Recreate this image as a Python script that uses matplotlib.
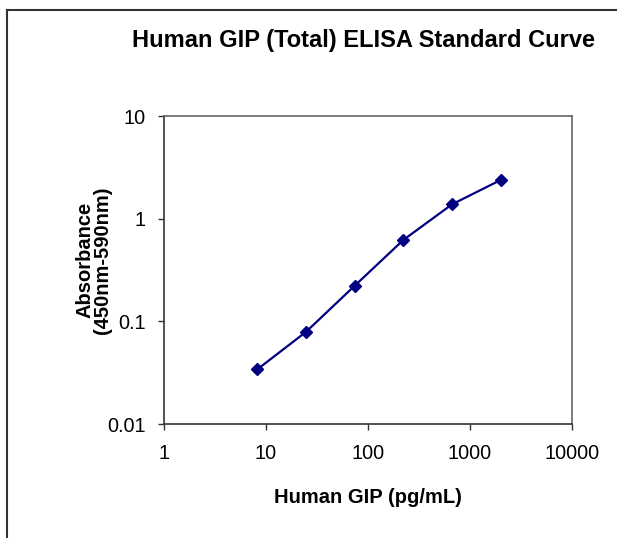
import matplotlib
matplotlib.use("Agg")
import matplotlib.pyplot as plt
from matplotlib.lines import Line2D

# standard curve: concentration (pg/mL) vs absorbance
conc = [8.2, 24.7, 74, 222, 667, 2000]
absorb = [0.034, 0.079, 0.222, 0.62, 1.38, 2.38]

xticks = [1, 10, 100, 1000, 10000]
xlabels = ["1", "10", "100", "1000", "10000"]
yticks = [0.01, 0.1, 1, 10]
ylabels = ["0.01", "0.1", "1", "10"]

plt.rcParams['font.family'] = ['Liberation Sans', 'DejaVu Sans']

W, H = 617, 538
fig = plt.figure(figsize=(W / 100, H / 100), dpi=100)
ax = fig.add_axes([164 / W, 1 - 424 / H, 408 / W, 308 / H])

ax.plot(conc, absorb, color='#000080', lw=1.6, marker='D', ms=6.5,
        mec='#000080', mfc='#000080')

ax.set_xscale('log')
ax.set_yscale('log')
ax.set_xlim(1, 10000)
ax.set_ylim(0.01, 10)
ax.set_xticks(xticks)
ax.set_xticklabels(xlabels)
ax.set_yticks(yticks)
ax.set_yticklabels(ylabels)
ax.minorticks_off()
ax.tick_params(axis='both', direction='out', length=4, width=1, labelsize=14.3, color='#333333')
ax.tick_params(axis='x', pad=10.5)
ax.tick_params(axis='y', pad=9)

for s in ['left', 'bottom']:
    ax.spines[s].set_color('#333333')
    ax.spines[s].set_linewidth(1.2)
for s in ['top', 'right']:
    ax.spines[s].set_color('#666666')
    ax.spines[s].set_linewidth(1.2)

fig.text(364 / W, 1 - 47.3 / H, "Human GIP (Total) ELISA Standard Curve",
         ha='center', va='baseline', fontsize=17, fontweight='bold')
fig.text(368 / W, 1 - 503.3 / H, "Human GIP (pg/mL)",
         ha='center', va='baseline', fontsize=14.5, fontweight='bold')
fig.text(94 / W, 1 - 260 / H, "Absorbance\n(450nm-590nm)",
         ha='center', va='center', rotation=90, fontsize=14.5,
         fontweight='bold', linespacing=0.9)

# outer frame (only top and left edges visible)
fig.add_artist(Line2D([7 / W, 7 / W], [0, 1 - 10 / H], color='#333333', lw=1.5,
                      transform=fig.transFigure))
fig.add_artist(Line2D([7 / W, 1], [1 - 10 / H, 1 - 10 / H], color='#333333', lw=1.5,
                      transform=fig.transFigure))

fig.savefig("out.png", dpi=100)
